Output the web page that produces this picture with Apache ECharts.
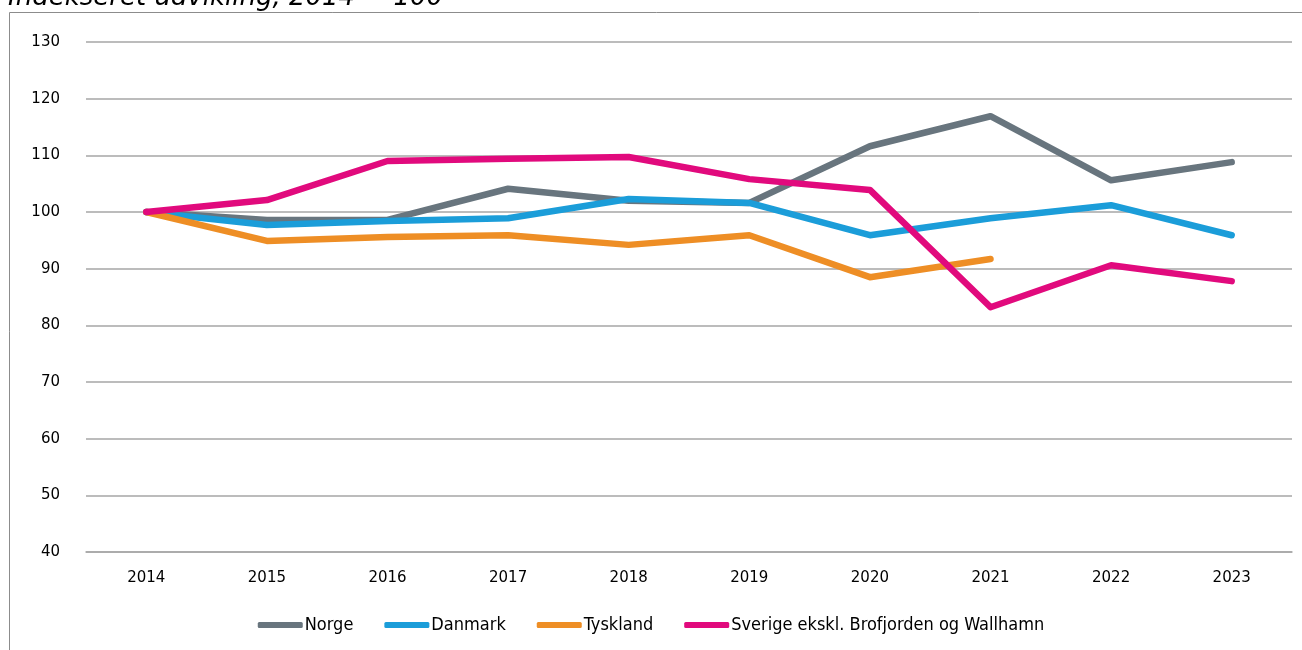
<!DOCTYPE html>
<html><head><meta charset="utf-8">
<script src="https://cdn.jsdelivr.net/npm/echarts@6/dist/echarts.min.js"></script>
<style>html,body{margin:0;padding:0;background:#fff}#c{width:1302px;height:650px}</style>
</head><body><div id="c"></div>
<script>
const categories = ['2014','2015','2016','2017','2018','2019','2020','2021','2022','2023'];
const norge = [100, 98.6, 98.6, 104.1, 102.0, 101.6, 111.6, 116.9, 105.6, 108.8];
const danmark = [100, 97.7, 98.4, 98.9, 102.3, 101.6, 95.9, 98.9, 101.2, 95.9];
const tyskland = [100, 94.9, 95.6, 95.9, 94.2, 95.9, 88.5, 91.7, null, null];
const sverige = [100, 102.1, 109.0, 109.4, 109.7, 105.8, 103.9, 83.2, 90.6, 87.8];
const seriesNames = ['Norge','Danmark','Tyskland','Sverige ekskl. Brofjorden og Wallhamn'];
const colors = ['#68757E','#1B9DD9','#EE8E25','#E10A7D'];
const titleText = 'Indekseret udvikling, 2014 = 100';

const chart = echarts.init(document.getElementById('c'));
const data = [norge, danmark, tyskland, sverige];
chart.setOption({
  animation: false,
  title: {text: titleText, left: 3, top: -20, textStyle: {fontFamily: 'DejaVu Sans', fontStyle: 'italic', fontWeight: 'normal', fontSize: 26, color: '#000'}},
  graphic: [{type: 'rect', shape: {x: 9.5, y: 12.5, width: 1320, height: 700}, style: {fill: 'none', stroke: '#8c8c8c', lineWidth: 1}, silent: true}],
  grid: {left: 86, right: 10, top: 42, bottom: 98},
  legend: {
    bottom: 11, left: 'center', itemWidth: 45, itemHeight: 6, itemGap: 31,
    icon: 'roundRect',
    textStyle: {fontFamily: 'Liberation Sans Narrow, DejaVu Sans Condensed, sans-serif', fontSize: 18, color: '#000', padding: [0,0,0,-3]},
    data: seriesNames
  },
  xAxis: {
    type: 'category', data: categories, boundaryGap: true,
    axisLine: {lineStyle: {color: '#a6a6a6', width: 1.5}},
    axisTick: {show: false},
    axisLabel: {margin: 19, fontFamily: 'DejaVu Sans', fontSize: 15, color: '#000'}
  },
  yAxis: {
    type: 'value', min: 40, max: 130, interval: 10,
    axisLine: {show: false}, axisTick: {show: false},
    splitLine: {lineStyle: {color: '#a6a6a6', width: 1.5}},
    axisLabel: {margin: 26, fontFamily: 'DejaVu Sans', fontSize: 15, color: '#000'}
  },
  series: seriesNames.map((n, i) => ({
    name: n, type: 'line', data: data[i], symbol: 'none',
    lineStyle: {color: colors[i], width: 6.5, cap: 'round', join: 'round'},
    itemStyle: {color: colors[i]}
  }))
});
</script></body></html>
